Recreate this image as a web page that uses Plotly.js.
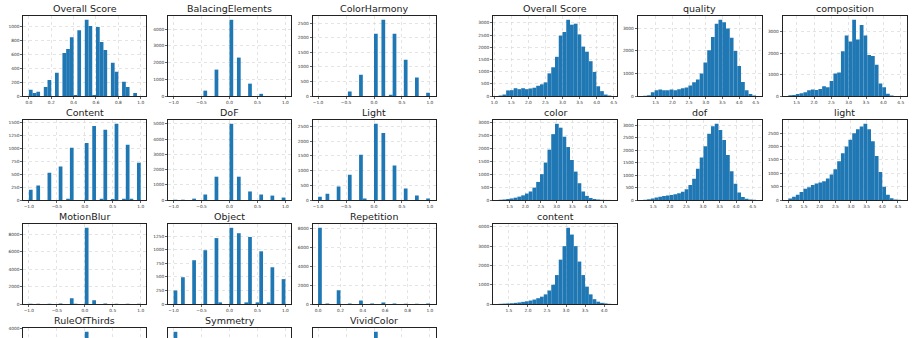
<!DOCTYPE html>
<html><head><meta charset="utf-8">
<script src="https://cdn.plot.ly/plotly-3.0.1.min.js"></script>
<style>html,body{margin:0;padding:0;background:#fff}#chart{width:913px;height:338px}</style>
</head><body><div id="chart"></div><script>
// ---- Left group: per-item rating histograms (30 bins) ----
const titlesLeft = ["Overall Score","BalacingElements","ColorHarmony","Content","DoF","Light","MotionBlur","Object","Repetition","RuleOfThirds","Symmetry","VividColor"];
const overallScoreLeftCounts = [90,45,60,0,130,230,0,335,0,620,680,850,15,950,0,1100,1010,15,995,780,665,0,480,350,0,205,130,0,45,0];
const balancingCounts       = [0,0,0,0,0,0,0,0,320,0,0,1580,0,0,0,4560,0,2300,0,0,740,0,0,130,0,0,0,0,0,0];
const colorHarmonyCounts    = [0,0,0,0,0,0,0,0,150,0,0,730,0,0,0,2130,0,2610,0,40,2130,0,0,1240,0,0,630,0,0,110];
const contentLeftCounts     = [200,0,280,0,0,525,0,0,645,0,25,1010,0,0,0,1100,0,1430,0,25,1355,0,20,1470,0,25,1065,25,0,720];
const dofLeftCounts         = [20,0,20,0,0,90,0,0,360,0,0,1530,0,0,0,5000,0,1530,0,0,560,0,0,360,0,0,290,0,0,160];
const lightLeftCounts       = [110,0,210,0,0,460,0,0,860,0,0,1540,50,0,0,2590,0,2280,0,0,1170,0,0,390,0,0,150,0,0,50];
const motionBlurCounts      = [30,0,30,0,0,40,0,0,50,0,0,660,40,0,0,8750,0,420,0,0,50,0,0,30,0,0,30,0,0,30];
const objectCounts          = [250,0,495,0,0,810,0,0,995,0,0,1220,30,0,0,1410,0,1310,0,30,1240,0,30,975,0,30,680,0,0,460];
const repetitionCounts      = [8050,0,40,0,0,1450,0,0,40,0,0,380,0,0,40,0,0,150,0,0,40,0,0,30,0,0,30,0,0,50];
const ruleOfThirdsCounts    = [0,0,0,0,0,0,0,0,0,0,0,0,0,0,0,3850,0,0,0,0,0,0,0,0,0,0,0,0,0,0];
const symmetryCounts        = [7500,0,0,0,0,0,0,0,0,0,0,0,0,0,0,0,0,0,0,0,0,0,0,0,0,0,0,0,0,0];
const vividColorCounts      = [0,0,0,0,0,0,0,0,0,0,0,0,0,0,0,4400,0,0,0,0,0,0,0,0,0,0,0,0,0,0];
// bin ranges [min, max] of the data
const rangeSigned = [-1, 1];
const rangeUnit = [0, 1];

// ---- Right group: aesthetic score histograms (30 bins) ----
const titlesRight = ["Overall Score","quality","composition","color","dof","light","content"];
const overallRightRange = [1.13, 4.43];
const overallRightCounts = [20,60,230,240,320,280,320,280,310,340,420,480,560,930,1180,1610,2480,2630,3130,2930,2970,2530,2030,1820,1430,990,400,200,60,20];
const qualityRange = [1.13, 4.51];
const qualityCounts = [15,30,170,250,290,260,250,290,260,300,340,380,470,610,730,1000,1490,2030,2620,3200,3380,3270,2990,2580,2000,1330,620,250,90,20];
const compositionRange = [1.26, 4.51];
const compositionCounts = [30,50,90,130,180,270,310,280,330,460,410,700,1060,1100,2100,2830,2550,3570,2650,3330,2840,1920,1880,1470,580,410,110,20,5,3];
const colorRange = [1.15, 4.75];
const colorCounts = [10,20,40,60,90,130,180,250,330,480,700,1000,1450,1950,2550,2950,2800,2450,2050,1550,1100,650,330,160,80,40,20,10,5,3];
const dofRange = [1.2, 4.6];
const dofCounts = [10,30,60,100,130,160,180,200,230,270,330,430,600,850,1250,1700,2150,2650,2950,3050,2800,2400,1800,1150,650,300,120,50,20,10];
const lightRange = [1.0, 4.6];
const lightCounts = [60,120,200,300,420,480,560,620,650,700,800,950,1150,1450,1750,2000,2250,2500,2650,2750,2850,2650,2200,1650,1050,500,200,70,20,10];
const contentRange = [1.23, 4.19];
const contentCounts = [10,20,30,40,60,80,110,140,180,230,300,380,500,700,1000,1500,2300,3000,3950,3600,3000,2200,1500,900,500,250,120,60,30,10];

// tick values
const xTicksSigned = [-1, -0.5, 0, 0.5, 1];
const xTicksUnit = [0, 0.2, 0.4, 0.6, 0.8, 1.0];
const xTicksOverallRight = [1.0,1.5,2.0,2.5,3.0,3.5,4.0,4.5];
const xTicksHalf = [1.5,2.0,2.5,3.0,3.5,4.0,4.5];
const xTicksLight = [1.0,1.5,2.0,2.5,3.0,3.5,4.0,4.5];
const xTicksContent = [1.5,2.0,2.5,3.0,3.5,4.0];

const ySteps = {
  "L0":200,"L1":1000,"L2":500,"L3":250,"L4":1000,"L5":500,"L6":2000,"L7":250,"L8":2000,"L9":1000,"L10":2000,"L11":1000,
  "R0":500,"R1":1000,"R2":1000,"R3":500,"R4":500,"R5":500,"R6":1000
};

// ---- layout geometry (pixels) ----
const W = 913, H = 338;
const leftCols = [23.3, 168, 312.5], leftW = 123;
const rightCols = [493, 637.7, 782.7], rightW = 124;
const rowTops = [16, 120, 224, 328], rowH = 80;

const panels = [];
const leftData = [
  [overallScoreLeftCounts, rangeUnit, xTicksUnit],
  [balancingCounts, rangeSigned, xTicksSigned],
  [colorHarmonyCounts, rangeSigned, xTicksSigned],
  [contentLeftCounts, rangeSigned, xTicksSigned],
  [dofLeftCounts, rangeSigned, xTicksSigned],
  [lightLeftCounts, rangeSigned, xTicksSigned],
  [motionBlurCounts, rangeSigned, xTicksSigned],
  [objectCounts, rangeSigned, xTicksSigned],
  [repetitionCounts, rangeUnit, xTicksUnit],
  [ruleOfThirdsCounts, rangeSigned, xTicksSigned],
  [symmetryCounts, rangeSigned, xTicksSigned],
  [vividColorCounts, rangeSigned, xTicksSigned]
];
leftData.forEach((d, i) => panels.push({title: titlesLeft[i], counts: d[0], range: d[1], xt: d[2],
  left: leftCols[i % 3], w: leftW, top: rowTops[Math.floor(i / 3)], step: ySteps["L" + i], cut: i >= 9}));
const rightData = [
  [overallRightCounts, overallRightRange, xTicksOverallRight],
  [qualityCounts, qualityRange, xTicksHalf],
  [compositionCounts, compositionRange, xTicksHalf],
  [colorCounts, colorRange, xTicksHalf],
  [dofCounts, dofRange, xTicksHalf],
  [lightCounts, lightRange, xTicksLight],
  [contentCounts, contentRange, xTicksContent]
];
rightData.forEach((d, i) => panels.push({title: titlesRight[i], counts: d[0], range: d[1], xt: d[2],
  left: rightCols[i % 3], w: rightW, top: rowTops[Math.floor(i / 3)], step: ySteps["R" + i], cut: false}));

const fmtX = v => v.toFixed(1).replace('-', '\u2212');
const traces = [], annotations = [];
const layout = {
  width: W, height: H, margin: {l: 0, r: 0, t: 0, b: 0},
  paper_bgcolor: '#fff', plot_bgcolor: '#fff', showlegend: false,
  font: {family: 'DejaVu Sans', color: '#222'}, annotations: annotations
};
const tickFont = {family: 'DejaVu Sans', size: 4.3, color: '#333'};

panels.forEach((p, idx) => {
  const n = idx + 1, sfx = n === 1 ? '' : String(n);
  const nb = p.counts.length, bw = (p.range[1] - p.range[0]) / nb;
  const xs = [], ys = [];
  p.counts.forEach((c, k) => { if (c > 0) { xs.push(p.range[0] + (k + 0.5) * bw); ys.push(c); } });
  traces.push({type: 'bar', x: xs, y: ys, width: bw, xaxis: 'x' + sfx, yaxis: 'y' + sfx,
    marker: {color: '#1f77b4', line: {width: 0}}, hoverinfo: 'skip'});
  const span = p.range[1] - p.range[0];
  const ymax = Math.max(...p.counts) * 1.05;
  const yt = []; for (let v = 0; v <= ymax; v += p.step) yt.push(v);
  const bottomPx = p.cut ? H : p.top + rowH;
  const yr = p.cut ? [ymax * (1 - (H - p.top) / rowH), ymax] : [0, ymax];
  layout['xaxis' + sfx] = {
    domain: [p.left / W, (p.left + p.w) / W], anchor: 'y' + sfx,
    range: [p.range[0] - 0.05 * span, p.range[1] + 0.05 * span],
    tickmode: 'array', tickvals: p.xt, ticktext: p.xt.map(fmtX),
    showline: true, linecolor: '#222', linewidth: 1, mirror: !p.cut,
    side: p.cut ? 'top' : 'bottom',
    ticks: p.cut ? '' : 'outside', ticklen: 2, tickwidth: 0.7, tickcolor: '#222',
    showticklabels: !p.cut, tickfont: tickFont,
    showgrid: true, gridcolor: '#d9d9d9', griddash: 'dot', gridwidth: 0.7, zeroline: false, fixedrange: true
  };
  layout['yaxis' + sfx] = {
    domain: [1 - bottomPx / H, 1 - p.top / H], anchor: 'x' + sfx, range: yr,
    tickmode: 'array', tickvals: yt, ticktext: yt.map(v => String(v)),
    showline: true, linecolor: '#222', linewidth: 1, mirror: true,
    ticks: 'outside', ticklen: 2, tickwidth: 0.7, tickcolor: '#222', tickfont: tickFont,
    showgrid: true, gridcolor: '#d9d9d9', griddash: 'dot', gridwidth: 0.7, zeroline: false, fixedrange: true
  };
  annotations.push({text: p.title, xref: 'paper', yref: 'paper', x: (p.left + p.w / 2) / W, y: 1 - p.top / H,
    xanchor: 'center', yanchor: 'bottom', yshift: 0, showarrow: false,
    font: {family: 'DejaVu Sans', size: 9.5, color: '#222'}});
});

Plotly.newPlot('chart', traces, layout, {staticPlot: true, displayModeBar: false});
</script></body></html>
